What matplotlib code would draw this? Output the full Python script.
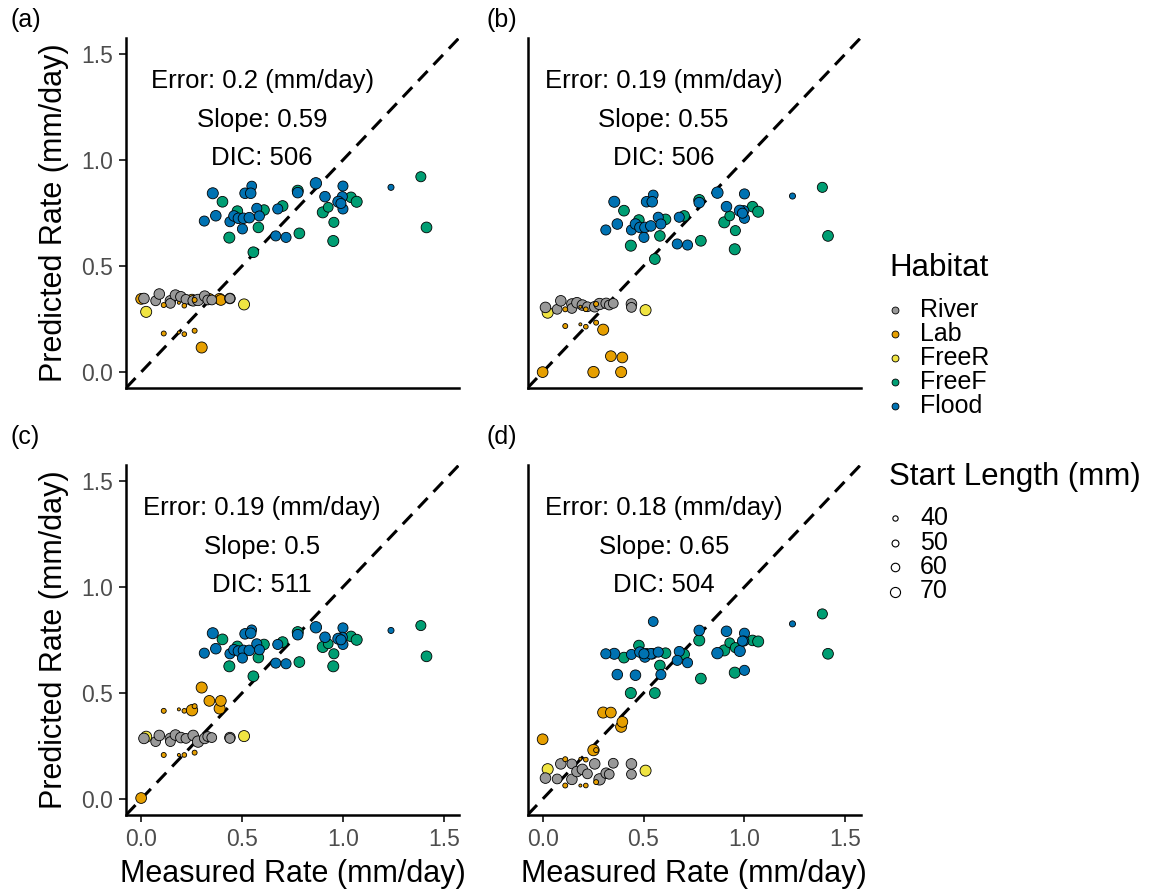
import numpy as np
import matplotlib
matplotlib.use('Agg')
import matplotlib.pyplot as plt

plt.rcParams['font.family'] = ['Liberation Sans', 'DejaVu Sans']

panels = ['a', 'b', 'c', 'd']
habitats = ['River', 'Lab', 'FreeR', 'FreeF', 'Flood']
colors = {'River': '#999999', 'Lab': '#E69F00', 'FreeR': '#F0E442',
          'FreeF': '#009E73', 'Flood': '#0072B2'}
draw_order = ['Lab', 'FreeR', 'River', 'FreeF', 'Flood']

error_txt = ['0.2', '0.19', '0.19', '0.18']
slope_txt = ['0.59', '0.55', '0.5', '0.65']
dic_txt = ['506', '506', '511', '504']

# measured growth rate (mm/day), start length (mm), predicted rate per model panel
river_meas = [0.014, 0.072, 0.09, 0.145, 0.145, 0.17, 0.197, 0.222, 0.258, 0.282, 0.315, 0.33, 0.35, 0.44, 0.44]
river_len = [73, 68, 73, 73, 68, 73, 73, 68, 73, 78, 73, 68, 68, 73, 68]
river_pred = {
    'a': [0.347, 0.336, 0.368, 0.336, 0.324, 0.363, 0.355, 0.343, 0.336, 0.34, 0.358, 0.34, 0.34, 0.347, 0.347],
    'b': [0.305, 0.296, 0.336, 0.321, 0.3, 0.327, 0.316, 0.308, 0.308, 0.321, 0.324, 0.316, 0.324, 0.321, 0.305],
    'c': [0.286, 0.271, 0.3, 0.286, 0.271, 0.302, 0.29, 0.286, 0.3, 0.271, 0.286, 0.295, 0.29, 0.29, 0.286],
    'd': [0.099, 0.095, 0.166, 0.093, 0.166, 0.13, 0.14, 0.119, 0.166, 0.093, 0.122, 0.117, 0.169, 0.166, 0.117],
}

lab_meas = [0.0, 0.252, 0.3, 0.338, 0.389, 0.395,
            0.112, 0.187, 0.214, 0.265, 0.112, 0.187, 0.214, 0.265]
lab_len = [74, 78, 76, 74, 76, 74, 38, 26, 36, 38, 38, 26, 36, 38]
lab_pred = {
    'a': [0.345, 0.34, 0.116, 0.345, 0.345, 0.34, 0.316, 0.327, 0.313, 0.34, 0.182, 0.187, 0.179, 0.195],
    'b': [0.0, 0.0, 0.2, 0.075, 0.0, 0.069, 0.296, 0.308, 0.296, 0.321, 0.217, 0.225, 0.214, 0.233],
    'c': [0.005, 0.419, 0.526, 0.463, 0.427, 0.463, 0.416, 0.423, 0.416, 0.438, 0.208, 0.208, 0.208, 0.219],
    'd': [0.282, 0.231, 0.408, 0.408, 0.341, 0.364, 0.188, 0.19, 0.186, 0.231, 0.064, 0.064, 0.064, 0.08],
}

freer_meas = [0.025, 0.51]
freer_len = [76, 76]
freer_pred = {
    'a': [0.284, 0.319],
    'b': [0.28, 0.292],
    'c': [0.294, 0.297],
    'd': [0.141, 0.134],
}

freef_meas = [0.403, 0.477, 0.609, 0.581, 0.437, 0.556, 0.701, 0.776, 0.784,
              0.9, 0.927, 0.955, 0.952, 1.04, 1.068, 1.386, 1.414]
freef_len = [74, 73, 73, 73, 76, 74, 74, 76, 74, 76, 68, 70, 76, 73, 76, 70, 74]
freef_pred = {
    'a': [0.803, 0.759, 0.764, 0.682, 0.634, 0.565, 0.783, 0.855, 0.654, 0.753, 0.777, 0.706, 0.618, 0.824, 0.803, 0.921, 0.682],
    'b': [0.761, 0.717, 0.72, 0.642, 0.596, 0.533, 0.736, 0.811, 0.619, 0.706, 0.736, 0.667, 0.579, 0.78, 0.756, 0.871, 0.642],
    'c': [0.753, 0.72, 0.729, 0.667, 0.626, 0.579, 0.74, 0.787, 0.646, 0.717, 0.732, 0.685, 0.626, 0.767, 0.751, 0.818, 0.673],
    'd': [0.667, 0.724, 0.688, 0.63, 0.5, 0.5, 0.682, 0.748, 0.568, 0.701, 0.737, 0.714, 0.596, 0.748, 0.743, 0.873, 0.685],
}

flood_meas = [0.355, 0.548, 0.515, 0.543, 0.313, 0.37, 0.44, 0.46, 0.482, 0.507, 0.536, 0.573, 0.586,
              0.502, 0.677, 0.667, 0.718, 0.866, 0.776, 0.911, 1.0, 0.997, 0.977, 1.0, 0.99, 1.238]
flood_len = [76, 68, 73, 73, 70, 73, 70, 73, 73, 73, 73, 70, 70,
             70, 70, 70, 70, 78, 73, 73, 70, 70, 76, 70, 70, 45]
flood_pred = {
    'a': [0.843, 0.877, 0.843, 0.843, 0.712, 0.737, 0.709, 0.736, 0.725, 0.725, 0.728, 0.772, 0.736,
          0.675, 0.769, 0.642, 0.635, 0.89, 0.846, 0.827, 0.877, 0.827, 0.803, 0.769, 0.795, 0.871],
    'b': [0.803, 0.835, 0.803, 0.803, 0.67, 0.698, 0.67, 0.698, 0.682, 0.682, 0.689, 0.73, 0.698,
          0.635, 0.73, 0.604, 0.599, 0.846, 0.799, 0.78, 0.84, 0.761, 0.761, 0.725, 0.749, 0.83],
    'c': [0.782, 0.798, 0.779, 0.782, 0.688, 0.709, 0.685, 0.704, 0.698, 0.701, 0.701, 0.732, 0.704,
          0.665, 0.729, 0.641, 0.638, 0.81, 0.775, 0.763, 0.807, 0.763, 0.756, 0.729, 0.751, 0.795],
    'd': [0.685, 0.837, 0.685, 0.685, 0.685, 0.587, 0.682, 0.584, 0.693, 0.67, 0.685, 0.693, 0.587,
          0.685, 0.696, 0.654, 0.643, 0.688, 0.795, 0.791, 0.782, 0.745, 0.698, 0.607, 0.745, 0.826],
}

legend_lengths = [40, 50, 60, 70]

meas = {'River': river_meas, 'Lab': lab_meas, 'FreeR': freer_meas, 'FreeF': freef_meas, 'Flood': flood_meas}
length = {'River': river_len, 'Lab': lab_len, 'FreeR': freer_len, 'FreeF': freef_len, 'Flood': flood_len}
pred = {'River': river_pred, 'Lab': lab_pred, 'FreeR': freer_pred, 'FreeF': freef_pred, 'Flood': flood_pred}


def msize(L):
    # marker diameter in px -> area in pt^2
    d_px = 5.3 + (np.asarray(L, dtype=float) - 40) * 0.16
    return (d_px * 0.72) ** 2


W, H = 1154, 892
fig = plt.figure(figsize=(W / 100, H / 100), dpi=100)

ax_w, ax_h = 333 / W, 350 / H
lefts = [126 / W, 527.5 / W]
bottoms = [1 - 388 / H, 1 - 815 / H]
lim = (-0.075, 1.575)
ticks = [0.0, 0.5, 1.0, 1.5]

for i, p in enumerate(panels):
    row, col = divmod(i, 2)
    ax = fig.add_axes([lefts[col], bottoms[row], ax_w, ax_h])
    ax.set_xlim(lim)
    ax.set_ylim(lim)
    for s in ['top', 'right']:
        ax.spines[s].set_visible(False)
    for s in ['left', 'bottom']:
        ax.spines[s].set_linewidth(1.8)
    ax.set_xticks(ticks)
    ax.set_yticks(ticks)
    ax.set_xticklabels(['%.1f' % t for t in ticks])
    ax.set_yticklabels(['%.1f' % t for t in ticks])
    ax.tick_params(labelsize=16.5, labelcolor='#4D4D4D', color='#333333',
                   length=5, width=1.4, pad=4)
    if row == 0:
        ax.tick_params(axis='x', bottom=False, labelbottom=False)
    else:
        ax.set_xlabel('Measured Rate (mm/day)', fontsize=22, labelpad=6)
    if col == 1:
        ax.tick_params(axis='y', left=False, labelleft=False)
    else:
        ax.set_ylabel('Predicted Rate (mm/day)', fontsize=22, labelpad=9)

    ax.axline((0, 0), slope=1, color='black', lw=2.2, ls=(0, (4.5, 2.8)), zorder=1)

    xs, ys, ls_, cs = [], [], [], []
    for h in draw_order:
        xs += list(meas[h])
        ys += list(pred[h][p])
        ls_ += list(length[h])
        cs += [colors[h]] * len(meas[h])
    xs, ys, ls_ = np.array(xs), np.array(ys), np.array(ls_)
    cs = np.array(cs)
    big = ls_ >= 50
    for m in [big, ~big]:
        ax.scatter(xs[m], ys[m], s=msize(ls_[m]), c=cs[m], edgecolors='black',
                   linewidths=0.6, zorder=3)

    ax.text(0.6, 1.37, 'Error: %s (mm/day)' % error_txt[i], ha='center', va='center', fontsize=18.5)
    ax.text(0.6, 1.19, 'Slope: %s' % slope_txt[i], ha='center', va='center', fontsize=18.5)
    ax.text(0.6, 1.01, 'DIC: %s' % dic_txt[i], ha='center', va='center', fontsize=18.5)

    px = 10 if col == 0 else 486
    py = 20 if row == 0 else 437
    fig.text(px / W, 1 - py / H, '(%s)' % p, ha='left', va='center', fontsize=18)

# legend drawn in a pixel-coordinate overlay
lax = fig.add_axes([0, 0, 1, 1])
lax.set_xlim(0, W)
lax.set_ylim(H, 0)
lax.axis('off')
lax.text(889, 268, 'Habitat', fontsize=22.5, ha='left', va='center')
for k, h in enumerate(habitats):
    y = 310 + k * 24
    lax.scatter([895], [y], s=msize(50), c=colors[h], edgecolors='black', linewidths=0.6)
    lax.text(920, y, h, fontsize=18, ha='left', va='center')
lax.text(889, 477, 'Start Length (mm)', fontsize=22.5, ha='left', va='center')
for k, L in enumerate(legend_lengths):
    y = 518 + k * 24.5
    lax.scatter([895], [y], s=msize(L), facecolors='white', edgecolors='black', linewidths=0.8)
    lax.text(920, y, str(L), fontsize=18, ha='left', va='center')

fig.savefig('out.png', dpi=100, facecolor='white')
